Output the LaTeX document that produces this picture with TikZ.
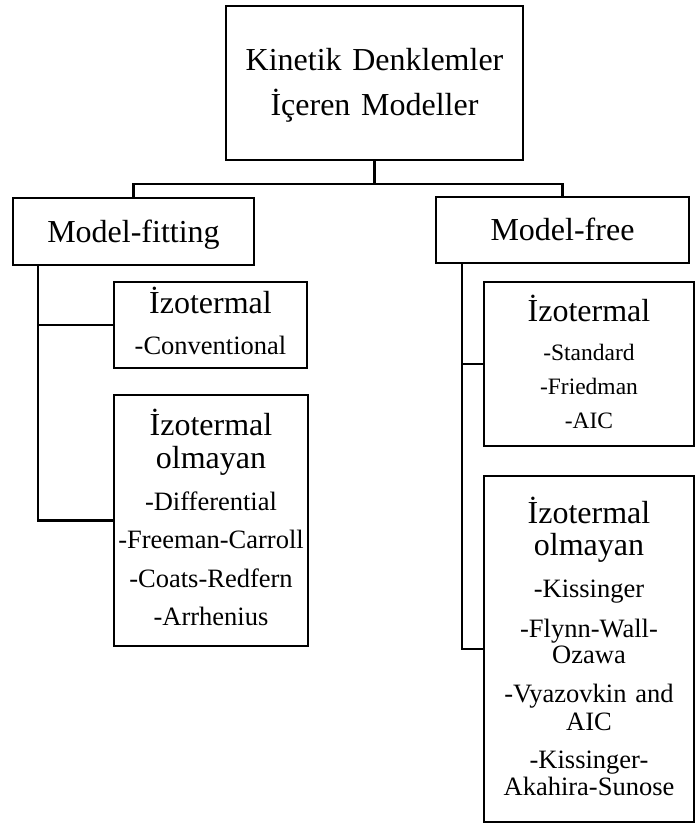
\documentclass[tikz,border=0pt]{standalone}
\usepackage{fontspec}
\setmainfont{Liberation Serif}
\begin{document}
\begin{tikzpicture}
    [x=1pt, y=-1pt,
    box/.style={draw, line width=2.6pt, inner sep=0pt, outer sep=0pt, anchor=north west,
        align=center, font=\fontsize{26.5}{32}\selectfont},
    big/.style={font=\fontsize{32}{32}\selectfont},
    small/.style={font=\fontsize{23.5}{32}\selectfont},
    edge/.style={line width=2.6pt}]

    \useasboundingbox (0,0) rectangle (695,823);

    % top of the tree
    \node[box, big, text width=297pt, text height=64pt, text depth=90pt] (root) at (226,6)
        {Kinetik Denklemler\\[13pt]İçeren Modeller};

    % the two families
    \node[box, big, text width=241pt, text height=44pt, text depth=23pt] (fit) at (13,198) {Model-fitting};
    \node[box, big, text width=253pt, text height=43pt, text depth=23pt] (free) at (436,197) {Model-free};

    % model-fitting methods
    \node[box, text width=193pt, text height=31pt, text depth=55pt] (fitiso) at (114,282)
        {{\fontsize{32}{32}\selectfont İzotermal}\\[9pt]-Conventional};
    \node[box, text width=194pt, text height=40pt, text depth=211pt] (fitnon) at (114,395)
        {{\fontsize{32}{32}\selectfont İzotermal}\\[1pt]{\fontsize{32}{32}\selectfont olmayan}\\[10pt]
        -Differential\\[6pt]-Freeman-Carroll\\[7pt]-Coats-Redfern\\[6pt]-Arrhenius};

    % model-free methods
    \node[box, small, text width=210pt, text height=39pt, text depth=125pt] (freeiso) at (484,282)
        {{\fontsize{32}{32}\selectfont İzotermal}\\[7pt]-Standard\\[2pt]-Friedman\\[2pt]-AIC};
    \node[box, text width=210pt, text height=47pt, text depth=299pt] (freenon) at (484,476)
        {{\fontsize{32}{32}\selectfont İzotermal}\\{\fontsize{32}{32}\selectfont olmayan}\\[10pt]
        -Kissinger\\[8pt]-Flynn-Wall-\\[-6pt]Ozawa\\[7pt]-Vyazovkin and\\[-4pt]AIC\\[6pt]
        -Kissinger-\\[-5pt]Akahira-Sunose};

    % links from the top box
    \draw[edge] (root.south) -- ++(0,24) -| (fit.north);
    \draw[edge] (root.south) -- ++(0,24) -| (free.north);

    % links to the method boxes
    \draw[edge] ([xshift=25pt]fit.south west) |- (fitiso.west);
    \draw[edge] ([xshift=25pt]fit.south west) |- (fitnon.west);
    \draw[edge] ([xshift=26pt]free.south west) |- (freeiso.west);
    \draw[edge] ([xshift=26pt]free.south west) |- (freenon.west);

\end{tikzpicture}
\end{document}
